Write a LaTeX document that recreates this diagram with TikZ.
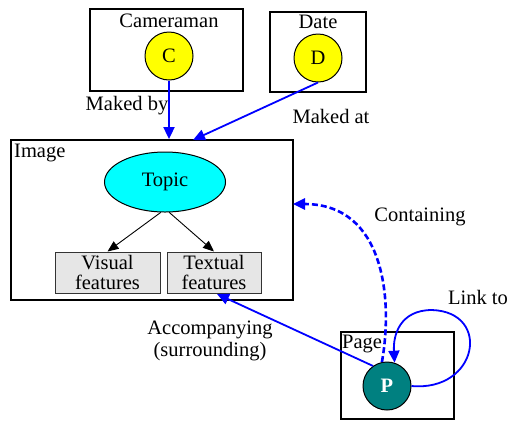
\documentclass[tikz,border=0pt]{standalone}
\usepackage{fontspec}
\setmainfont{Liberation Serif}
\newfontfamily\tnr{Liberation Serif}
\usetikzlibrary{arrows.meta,shapes.geometric,calc}
\definecolor{myblue}{RGB}{0,0,255}
\definecolor{myyellow}{RGB}{255,255,0}
\definecolor{mycyan}{RGB}{0,255,255}
\definecolor{myteal}{RGB}{0,128,128}
\definecolor{mygray}{RGB}{230,230,230}
\begin{document}
\begin{tikzpicture}[x=1pt,y=-1pt,
  font=\tnr\fontsize{20.5}{22}\selectfont,
  container/.style={draw=black,line width=1.8pt,inner sep=0pt},
  entity/.style={circle,draw=black,line width=1pt,minimum size=48pt,inner sep=0pt},
  featbox/.style={rectangle,draw=black!80,line width=1pt,fill=mygray,minimum height=41pt,inner sep=0pt,align=center,font=\tnr\fontsize{20.5}{20}\selectfont},
  bluearrow/.style={draw=myblue,line width=1.8pt,-{Triangle[length=12pt,width=11pt]}},
  blackarrow/.style={draw=black,line width=0.9pt,-{Triangle[length=11pt,width=9pt]}},
  lbl/.style={inner sep=0pt,align=center}
]
\useasboundingbox (0,0) rectangle (510,421);

% containers
\node[container,minimum width=153pt,minimum height=82pt] (CamBox) at (166.5,50) {};
\node[container,minimum width=96pt,minimum height=80pt] (DateBox) at (318,52) {};
\node[container,minimum width=282pt,minimum height=160pt] (Image) at (152,220) {};
\node[container,minimum width=113pt,minimum height=87pt] (PageBox) at (397.5,375.5) {};

% container labels
\node[lbl] (CamLbl) at (169,21) {Cameraman};
\node[lbl] (DateLbl) at (318,22) {Date};
\node[lbl,anchor=west] (ImgLbl) at (14,153) {Image};
\node[lbl,anchor=west] (PageLbl) at (342,344) {Page};

% entities
\node[entity,fill=myyellow] (C) at (169,56) {C};
\node[entity,fill=myyellow] (D) at (318,58) {D};
\node[entity,fill=myteal,text=white,font=\tnr\fontsize{20.5}{22}\selectfont\bfseries] (P) at (387,386) {P};

\node[ellipse,draw=black,line width=1pt,fill=mycyan,minimum width=121pt,minimum height=60pt,inner sep=0pt] (Topic) at (165,182) {Topic};
\node[featbox,minimum width=105pt] (Visual) at (107.5,272.5) {Visual\\features};
\node[featbox,minimum width=94pt] (Textual) at (214,272.5) {Textual\\features};

% coordinates for free ends
\coordinate (dIn) at (193,140);
\coordinate (cIn) at (293,204);
\coordinate (tIn) at (217,294);

% connectors
\draw[bluearrow] (C.south) -- (C.south |- Image.north);
\draw[bluearrow] (D.south) -- (dIn);
\draw[blackarrow] (Topic.262) -- (Visual.north);
\draw[blackarrow] (Topic.278) -- (Textual.north);
\draw[bluearrow] (P.125) -- (tIn);
\draw[bluearrow,line width=2.6pt,dash pattern=on 6pt off 3pt] (P.102) .. controls (393,300) and (385,204) .. (cIn);
\draw[bluearrow] (P.east) .. controls (478,392) and (492,312) .. (432,310)
  .. controls (400,310) and (393,335) .. (P.72);

% labels
\node[lbl] (L1) at (127,106) {Maked by};
\node[lbl] (L2) at (331,116) {Maked at};
\node[lbl] (L3) at (420,217) {Containing};
\node[lbl] (L4) at (478,297) {Link to};
\node[lbl] (L5) at (210,341) {Accompanying\\(surrounding)};
\end{tikzpicture}
\end{document}
